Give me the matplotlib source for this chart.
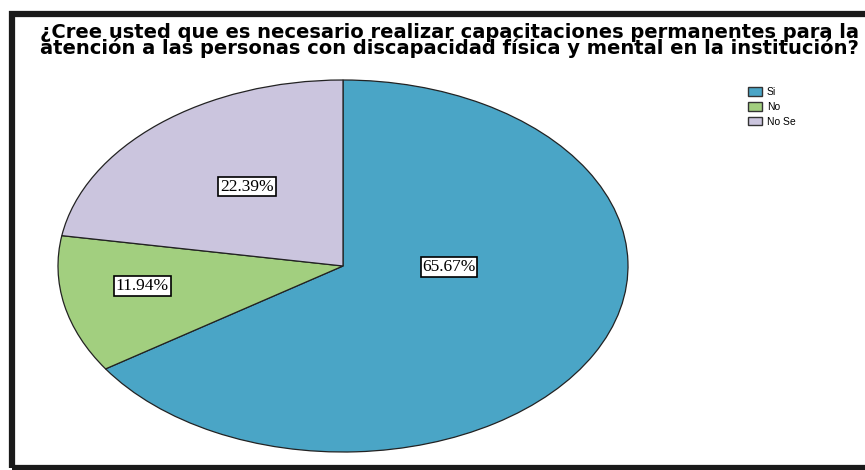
import matplotlib
matplotlib.use("Agg")
import matplotlib.pyplot as plt
from matplotlib.patches import Rectangle, Patch

# datos
categorias = ["Si", "No", "No Se"]
porcentajes = [65.67, 11.94, 22.39]
colores = ["#4aa5c6", "#a2cf7f", "#cbc5de"]
titulo = ("¿Cree usted que es necesario realizar capacitaciones permanentes para la\n"
          "atención a las personas con discapacidad física y mental en la institución?")

W, H = 865, 470
fig = plt.figure(figsize=(W / 100, H / 100), dpi=100)
fig.patch.set_facecolor("white")

# marco negro de la ventana (sale por la derecha)
fig.add_artist(Rectangle((12 / W, 1 - 468 / H), 870 / W, 454 / H,
                         transform=fig.transFigure, fill=False,
                         edgecolor="#1a1a1a", linewidth=4.5))

fig.text(40 / W, 1 - 23 / H, titulo, fontsize=14, fontweight="bold",
         family="DejaVu Sans", va="top", ha="left", linespacing=0.78)

# pie eliptico: la caja del eje es la caja de la elipse
ax = fig.add_axes([58 / W, 1 - 452 / H, 570 / W, 372 / H])
wedges, _ = ax.pie(porcentajes, colors=colores, startangle=90, counterclock=False,
                   wedgeprops=dict(edgecolor="#222222", linewidth=0.9))
ax.set_aspect("auto")
ax.set_xlim(-1, 1)
ax.set_ylim(-1, 1)
ax.axis("off")

# posiciones de etiquetas (coords del pie, como las pone SPSS)
pos_etiquetas = [(0.372, -0.005), (-0.704, -0.108), (-0.337, 0.427)]
for p, (x, y) in zip(porcentajes, pos_etiquetas):
    ax.text(x, y, f"{p:.2f}%", ha="center", va="center", fontsize=12.5,
            family="Liberation Serif",
            bbox=dict(boxstyle="square,pad=0.1", facecolor="white",
                      edgecolor="black", linewidth=1.2))

handles = [Patch(facecolor=c, edgecolor="#333333", label=l)
           for c, l in zip(colores, categorias)]
fig.legend(handles=handles, loc="upper left", bbox_to_anchor=(743 / W, 1 - 82 / H),
           frameon=False, handlelength=1.3, handleheight=0.9,
           handletextpad=0.5, labelspacing=0.45, borderpad=0,
           prop=dict(family="Liberation Sans", size=7.5))

fig.savefig("out.png", dpi=100)
